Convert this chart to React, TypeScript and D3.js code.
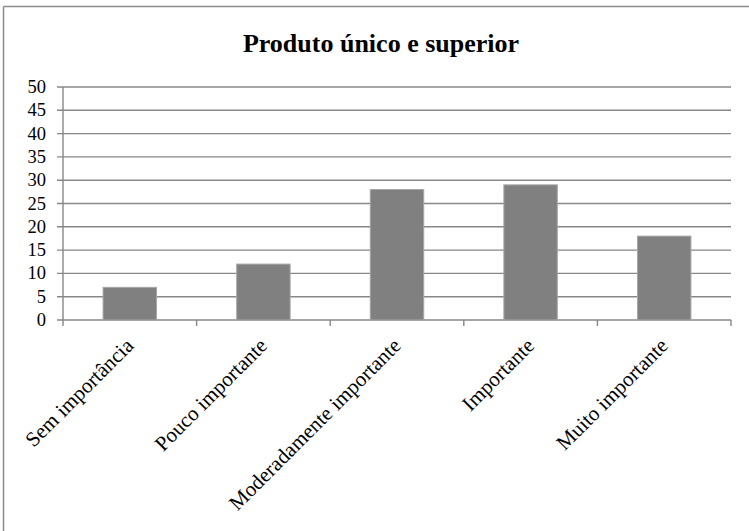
import React from "react";
import * as d3 from "d3";

const categories = [
  "Sem importância",
  "Pouco importante",
  "Moderadamente importante",
  "Importante",
  "Muito importante",
];
const values = [7, 12, 28, 29, 18];
const yTicks = [0, 5, 10, 15, 20, 25, 30, 35, 40, 45, 50];
const title = "Produto único e superior";

const W = 749;
const H = 531;
const plot = { left: 63, right: 731, top: 87, bottom: 320 };
const FONT = "'Liberation Serif', 'Times New Roman', serif";

export default function App() {
  const x = d3
    .scaleBand<string>()
    .domain(categories)
    .range([plot.left, plot.right])
    .paddingInner(0.6)
    .paddingOuter(0.3);
  const band = d3.scaleBand<string>().domain(categories).range([plot.left, plot.right]);
  const y = d3.scaleLinear().domain([0, 50]).range([plot.bottom, plot.top]);
  const gridColor = "#878787";

  return (
    <svg
      width={W}
      height={H}
      style={{ position: "absolute", left: 0, top: 0, background: "#fff", overflow: "hidden" }}
      fontFamily={FONT}
    >
      {/* chart frame: only the top and left edges fall inside the view */}
      <line x1={3.5} x2={W} y1={6.5} y2={6.5} stroke="#8a8a8a" strokeWidth={1.5} />
      <line x1={3.5} x2={3.5} y1={6.5} y2={H} stroke="#8a8a8a" strokeWidth={1.5} />

      <text x={381} y={52} textAnchor="middle" fontSize={26} fontWeight="bold" fill="#000">
        {title}
      </text>

      {/* horizontal gridlines and y tick labels */}
      {yTicks.map((t) => (
        <g key={t}>
          <line
            x1={plot.left - 6}
            x2={plot.right}
            y1={y(t)}
            y2={y(t)}
            stroke={gridColor}
            strokeWidth={1.4}
          />
          <text x={46} y={y(t) + 6} textAnchor="end" fontSize={18.5} fill="#000">
            {t}
          </text>
        </g>
      ))}

      {/* y axis */}
      <line x1={plot.left} x2={plot.left} y1={plot.top} y2={plot.bottom} stroke={gridColor} strokeWidth={1.4} />

      {/* x axis ticks at category boundaries */}
      {[...categories.map((c) => band(c) as number), plot.right].map((tx, i) => (
        <line key={i} x1={tx} x2={tx} y1={plot.bottom} y2={plot.bottom + 6} stroke={gridColor} strokeWidth={1.4} />
      ))}

      {/* bars */}
      {categories.map((c, i) => (
        <rect
          key={c}
          x={x(c)}
          y={y(values[i])}
          width={x.bandwidth()}
          height={y(0) - y(values[i])}
          fill="#808080"
          stroke="#a6a6a6"
          strokeWidth={1}
        />
      ))}

      {/* rotated category labels */}
      {categories.map((c) => {
        const cx = (band(c) as number) + band.bandwidth() / 2 + 5;
        const cy = plot.bottom + 27;
        return (
          <text
            key={c}
            x={cx}
            y={cy}
            textAnchor="end"
            fontSize={21}
            fill="#000"
            transform={`rotate(-45 ${cx} ${cy})`}
          >
            {c}
          </text>
        );
      })}
    </svg>
  );
}
